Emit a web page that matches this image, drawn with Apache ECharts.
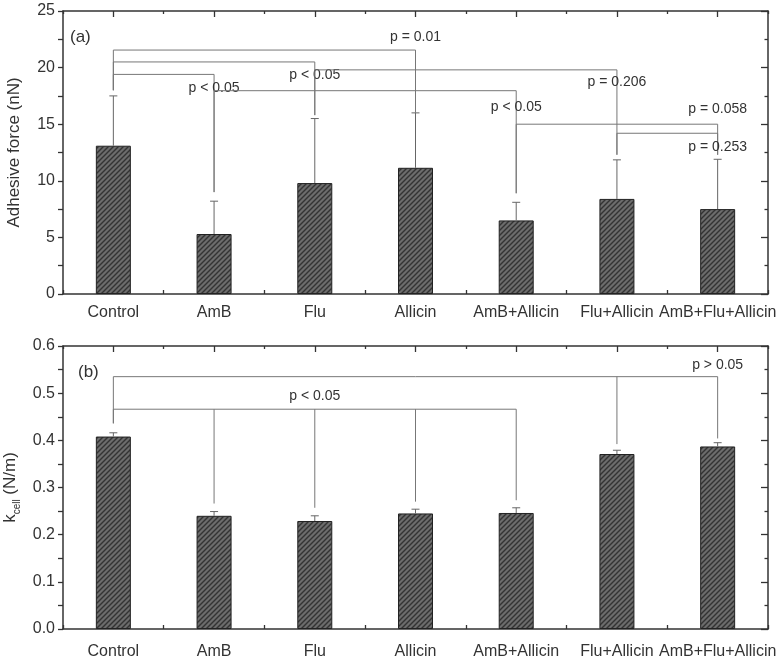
<!DOCTYPE html>
<html><head><meta charset="utf-8">
<script src="https://cdn.jsdelivr.net/npm/echarts@6/dist/echarts.min.js"></script>
<style>html,body{margin:0;padding:0;background:#fff}#c{width:781px;height:662px}</style>
</head><body><div id="c"></div>
<script>
// ---- data ----
const categories = ['Control','AmB','Flu','Allicin','AmB+Allicin','Flu+Allicin','AmB+Flu+Allicin'];
const adhesiveForce = [13.1, 5.3, 9.8, 11.15, 6.5, 8.4, 7.5];
const adhesiveForceErr = [4.4, 2.9, 5.7, 4.85, 1.6, 3.45, 4.4];
const kcell = [0.408, 0.240, 0.229, 0.245, 0.246, 0.371, 0.387];
const kcellErr = [0.008, 0.009, 0.011, 0.009, 0.011, 0.008, 0.008];
const forceAxisTicks = [0, 5, 10, 15, 20, 25];
const kcellAxisTicks = [0.0, 0.1, 0.2, 0.3, 0.4, 0.5, 0.6];
// significance brackets: level, drops [categoryIndex, shift, endValue], label, label position
const forceBrackets = [
  {level: 21.55, drops: [[0, 0, 18.0], [3, 0, 16.0]], label: 'p = 0.01', at: [2.68, 22.7]},
  {level: 20.5,  drops: [[0, 0, 18.0], [2, -0.025, 15.8]], label: 'p < 0.05', at: [1.675, 19.3]},
  {level: 19.4,  drops: [[0, 0, 18.0], [1, -0.03, 9.0]], label: 'p < 0.05', at: [0.69, 18.2]},
  {level: 17.96, drops: [[1, 0.027, 9.0], [4, -0.017, 8.9]], label: 'p < 0.05', at: [3.65, 16.5]},
  {level: 19.8,  drops: [[2, 0.02, 15.8], [5, -0.02, 12.3]], label: 'p = 0.206', at: [4.64, 18.7]},
  {level: 15.0,  drops: [[4, 0.017, 8.9], [6, 0, 12.3]], label: 'p = 0.058', at: [5.7, 16.3]},
  {level: 14.2,  drops: [[5, 0.013, 12.3], [6, 0, 12.3]], label: 'p = 0.253', at: [5.68, 13.0]}
];
const kcellBrackets = [
  {level: 0.535, drops: [[0, 0, 0.436], [5, 0, 0.392], [6, 0, 0.404]], label: 'p > 0.05', at: [5.5, 0.560]},
  {level: 0.466, drops: [[0, 0, 0.436], [1, 0, 0.266], [2, 0, 0.257], [3, 0, 0.27], [4, 0, 0.273]], label: 'p < 0.05', at: [1.83, 0.494]}
];

// ---- styling ----
const FONT = '"Liberation Sans", Arial, sans-serif';
const TXT = '#333';
const FRAME = '#333';
function hatch() {
  const s = 5;
  const c = document.createElement('canvas');
  c.width = c.height = s;
  const g = c.getContext('2d');
  g.fillStyle = '#6c6c6c'; g.fillRect(0, 0, s, s);
  g.strokeStyle = '#333'; g.lineWidth = 1.4;
  g.beginPath();
  g.moveTo(0, s); g.lineTo(s, 0);
  g.moveTo(-1, 1); g.lineTo(1, -1);
  g.moveTo(s - 1, s + 1); g.lineTo(s + 1, s - 1);
  g.stroke();
  return c;
}
const hatchImg = hatch();
function ts() { return {color: FRAME, width: 1.3}; }

function catAxis(grid, margin) {
  return {type: 'category', gridIndex: grid, data: categories, position: 'bottom',
    axisLine: {show: true, onZero: false, lineStyle: {color: FRAME, width: 1.5}},
    axisTick: {show: true, inside: true, interval: 0, length: 4, lineStyle: ts()},
    axisLabel: {color: TXT, fontSize: 16, fontFamily: FONT, margin: margin, interval: 0}};
}
function topAxis(grid, centre) {
  return {type: 'category', gridIndex: grid, data: categories, position: 'top',
    axisLine: {show: !centre, onZero: false, lineStyle: {color: FRAME, width: 1.5}},
    axisTick: {show: true, inside: true, interval: 0, alignWithLabel: centre, length: centre ? 6 : 3, lineStyle: ts()},
    axisLabel: {show: false}, splitLine: {show: false}};
}
function valAxis(grid, pos, ticks, name, fmt) {
  const iv = ticks[1] - ticks[0];
  const left = pos === 'left';
  return {type: 'value', gridIndex: grid, position: pos, min: ticks[0], max: ticks[ticks.length - 1], interval: iv,
    name: left ? name : '', nameLocation: 'middle', nameGap: 40, nameRotate: 90,
    nameTextStyle: {color: TXT, fontSize: 17, fontFamily: FONT,
      rich: {n: {fontSize: 17, fontFamily: FONT, color: TXT, lineHeight: 24, verticalAlign: 'middle'},
             s: {fontSize: 10, fontFamily: FONT, color: TXT, lineHeight: 24, verticalAlign: 'bottom'}}},
    axisLine: {show: true, onZero: false, lineStyle: {color: FRAME, width: 1.5}},
    axisTick: {show: true, inside: !left, length: left ? 5 : 7, lineStyle: ts()},
    minorTick: {show: true, splitNumber: 2, length: left ? 5 : 3.5, lineStyle: ts()},
    splitLine: {show: false},
    axisLabel: {show: left, color: TXT, fontSize: 16, fontFamily: FONT, margin: 8, formatter: fmt}};
}
function barSeries(xi, yi, vals) {
  return {type: 'bar', xAxisIndex: xi, yAxisIndex: yi, data: vals, barWidth: 35, z: 3,
    itemStyle: {color: {image: hatchImg, repeat: 'repeat'}, borderColor: '#222', borderWidth: 1}};
}
function errSeries(xi, yi, vals, errs) {
  return {type: 'custom', xAxisIndex: xi, yAxisIndex: yi, z: 4,
    data: vals.map((v, i) => [i, v, v + errs[i]]),
    encode: {x: 0, y: [1, 2]},
    renderItem: function (params, api) {
      const a = api.coord([api.value(0), api.value(1)]);
      const b = api.coord([api.value(0), api.value(2)]);
      const st = {stroke: '#666', lineWidth: 1};
      return {type: 'group', children: [
        {type: 'line', shape: {x1: a[0], y1: a[1], x2: b[0], y2: b[1]}, style: st},
        {type: 'line', shape: {x1: b[0] - 4, y1: b[1], x2: b[0] + 4, y2: b[1]}, style: st}
      ]};
    }};
}
function bracketSeries(xi, yi, brackets) {
  return {type: 'custom', xAxisIndex: xi, yAxisIndex: yi, z: 5, clip: false,
    data: brackets.map((b, i) => [b.at[0], b.level, i]),
    encode: {x: 0, y: 1},
    renderItem: function (params, api) {
      const b = brackets[params.dataIndex];
      const st = {stroke: '#777', lineWidth: 1};
      const xs = b.drops.map(d => d[0] + d[1]);
      const l = api.coord([Math.min.apply(null, xs), b.level]);
      const r = api.coord([Math.max.apply(null, xs), b.level]);
      const ch = [{type: 'line', shape: {x1: l[0], y1: l[1], x2: r[0], y2: r[1]}, style: st}];
      b.drops.forEach(d => {
        const p = api.coord([d[0] + d[1], b.level]);
        const q = api.coord([d[0] + d[1], d[2]]);
        ch.push({type: 'line', shape: {x1: p[0], y1: p[1], x2: q[0], y2: q[1]}, style: st});
      });
      const t = api.coord(b.at);
      ch.push({type: 'text', style: {text: b.label, x: t[0], y: t[1], fill: TXT, fontSize: 14, fontFamily: FONT,
        align: 'center', verticalAlign: 'middle'}});
      return {type: 'group', children: ch};
    }};
}

const chart = echarts.init(document.getElementById('c'), null, {renderer: 'canvas'});
chart.setOption({
  animation: false,
  backgroundColor: '#fff',
  grid: [
    {left: 63, top: 11, right: 13, height: 283, containLabel: false, outerBoundsMode: 'none'},
    {left: 63, top: 346, right: 13, height: 283, containLabel: false, outerBoundsMode: 'none'}
  ],
  xAxis: [catAxis(0, 11), topAxis(0, false), topAxis(0, true),
          catAxis(1, 15), topAxis(1, false), topAxis(1, true)],
  yAxis: [
    valAxis(0, 'left', forceAxisTicks, 'Adhesive force (nN)', v => String(v)),
    valAxis(0, 'right', forceAxisTicks, '', v => String(v)),
    valAxis(1, 'left', kcellAxisTicks, '{n|k}{s|cell}{n| (N/m)}', v => v.toFixed(1)),
    valAxis(1, 'right', kcellAxisTicks, '', v => v.toFixed(1))
  ],
  graphic: [
    {type: 'text', left: 70, top: 29, style: {text: '(a)', fill: TXT, fontSize: 17, fontFamily: FONT}},
    {type: 'text', left: 78, top: 364, style: {text: '(b)', fill: TXT, fontSize: 17, fontFamily: FONT}}
  ],
  series: [
    barSeries(0, 0, adhesiveForce),
    errSeries(0, 0, adhesiveForce, adhesiveForceErr),
    bracketSeries(0, 0, forceBrackets),
    barSeries(3, 2, kcell),
    errSeries(3, 2, kcell, kcellErr),
    bracketSeries(3, 2, kcellBrackets)
  ]
});
</script>
</body></html>
